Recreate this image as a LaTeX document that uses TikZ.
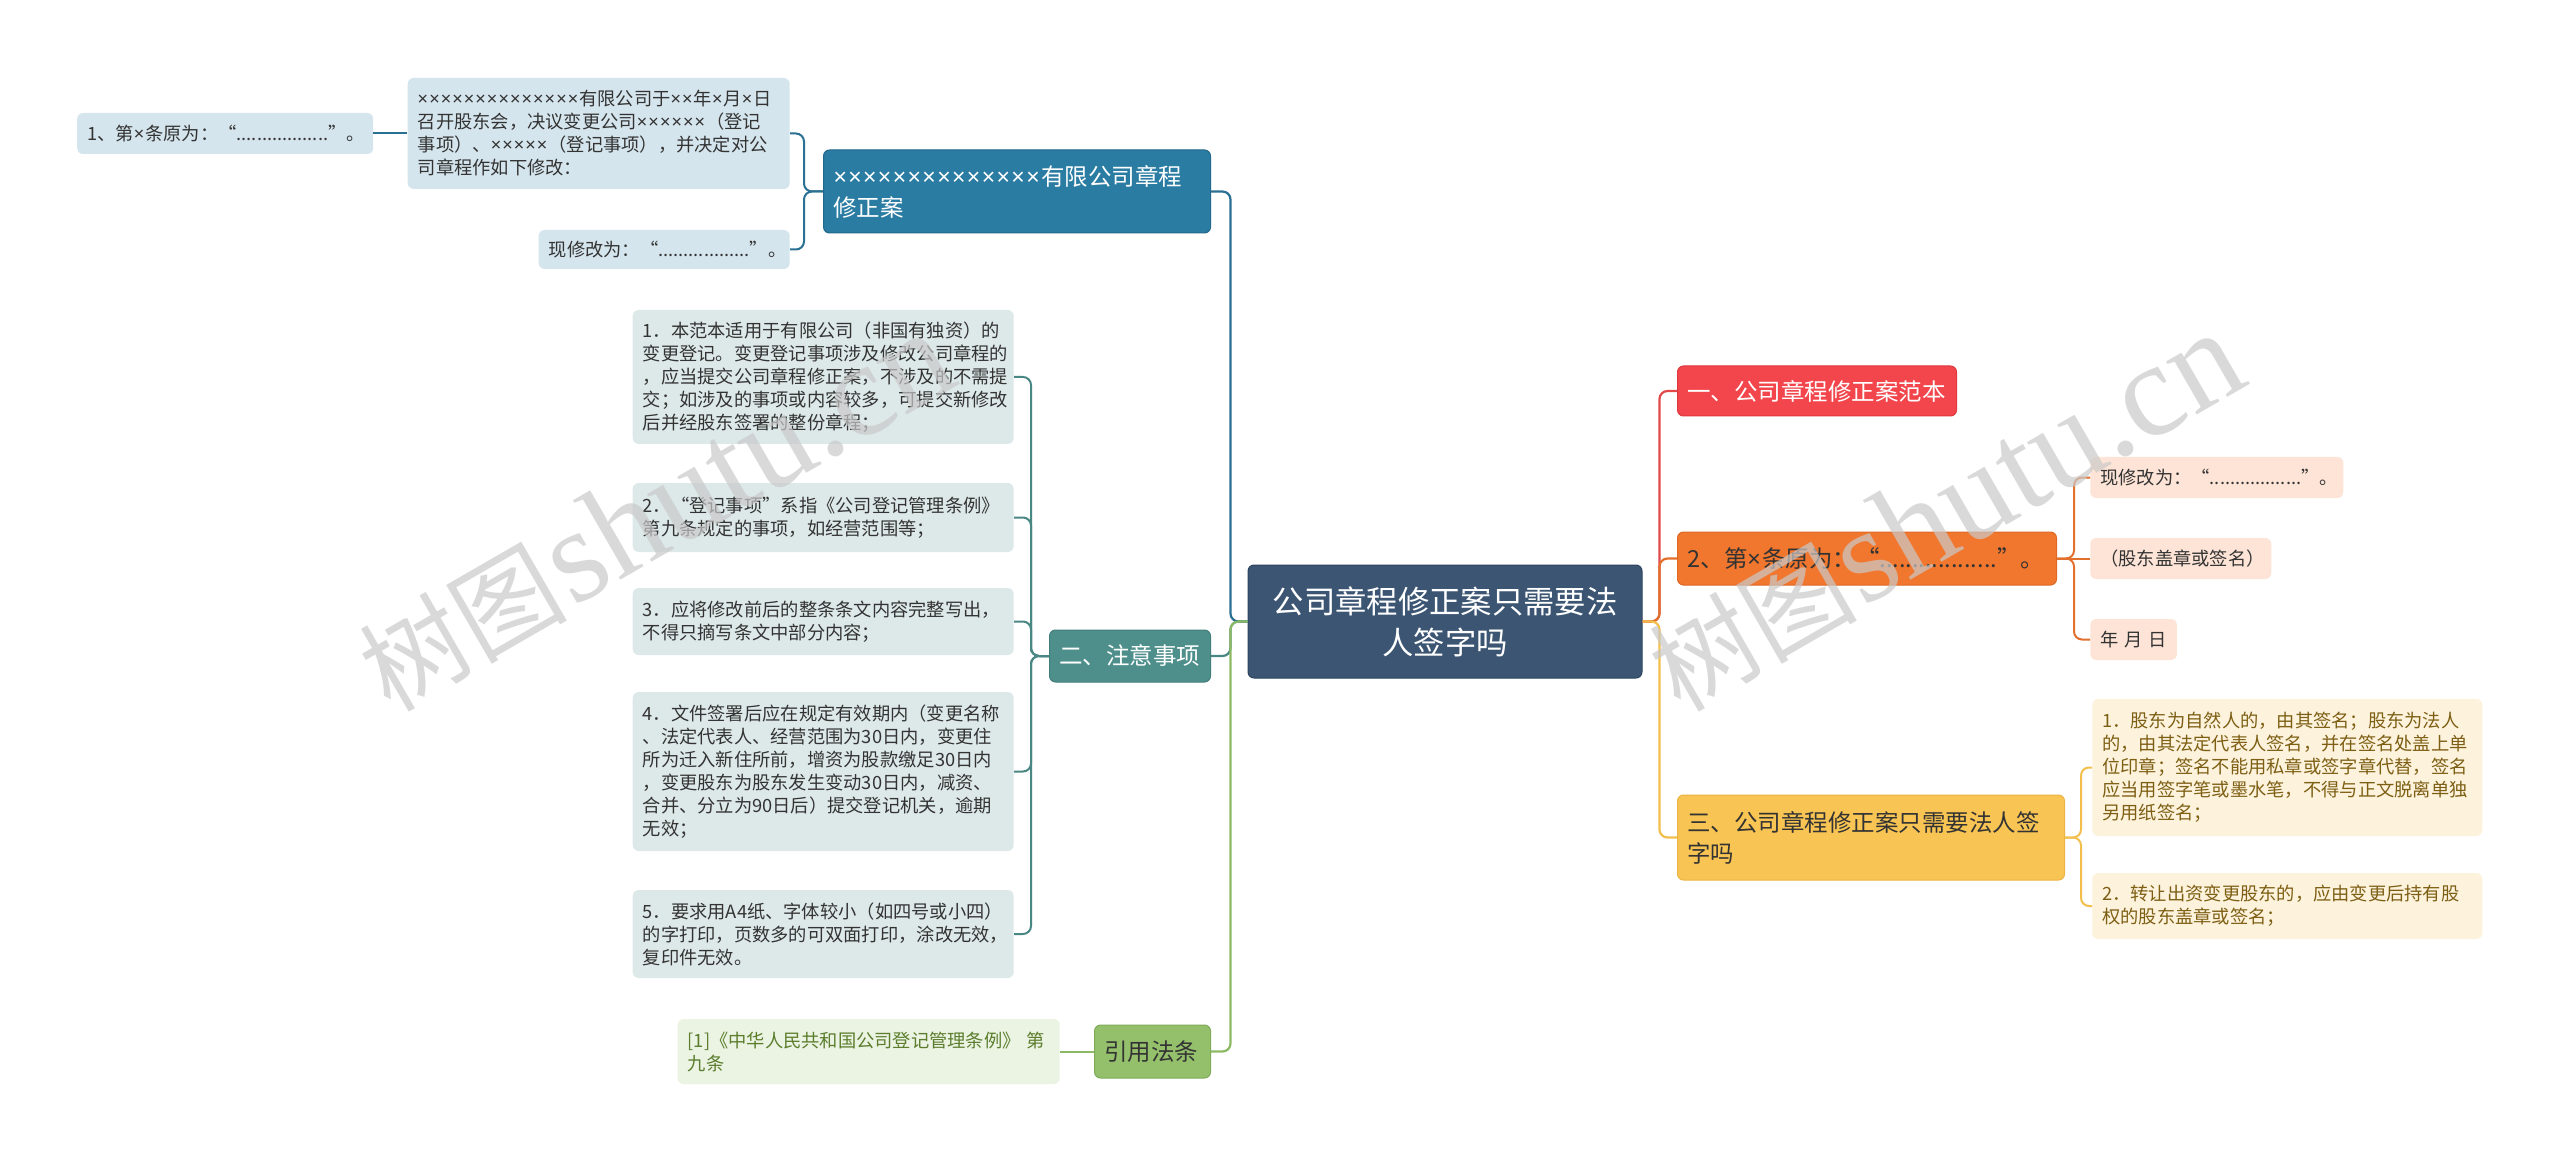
\documentclass[tikz,border=0pt]{standalone}
\usepackage{fontspec}
\setmainfont{Noto Sans CJK SC}
\newfontfamily\wmlatin{Liberation Serif}
\newfontfamily\crossfont{Noto Sans}
\usetikzlibrary{positioning}
\definecolor{rootcolor}{RGB}{59,85,115}
\definecolor{rootborder}{RGB}{45,68,95}
\definecolor{amendcolor}{RGB}{42,124,162}
\definecolor{amendborder}{RGB}{33,104,138}
\definecolor{amendleafcolor}{RGB}{213,229,237}
\definecolor{amendline}{RGB}{42,112,146}
\definecolor{notecolor}{RGB}{78,143,140}
\definecolor{noteborder}{RGB}{66,126,123}
\definecolor{noteleafcolor}{RGB}{221,233,232}
\definecolor{noteline}{RGB}{72,135,132}
\definecolor{lawcolor}{RGB}{148,192,108}
\definecolor{lawborder}{RGB}{128,172,90}
\definecolor{lawleafcolor}{RGB}{235,243,226}
\definecolor{lawline}{RGB}{140,186,100}
\definecolor{lawtext}{RGB}{91,125,45}
\definecolor{samplecolor}{RGB}{242,70,76}
\definecolor{sampleborder}{RGB}{222,56,62}
\definecolor{sampleline}{RGB}{226,72,72}
\definecolor{origcolor}{RGB}{242,119,46}
\definecolor{origborder}{RGB}{222,104,36}
\definecolor{origleafcolor}{RGB}{253,228,214}
\definecolor{origline}{RGB}{226,112,44}
\definecolor{signcolor}{RGB}{248,196,83}
\definecolor{signborder}{RGB}{236,180,66}
\definecolor{signleafcolor}{RGB}{253,242,220}
\definecolor{signline}{RGB}{242,191,76}
\definecolor{signtext}{RGB}{125,95,20}
\definecolor{textdark}{RGB}{51,51,51}

\newcommand\leaffont{\fontsize{13.7pt}{17.25pt}\selectfont}
\newcommand\branchfont{\fontsize{17.6pt}{23.25pt}\selectfont}
\newcommand\rootfont{\fontsize{23.5pt}{30.75pt}\selectfont}
\newcommand\wmcjk{\fontsize{78pt}{78pt}\selectfont}
\newcommand\wmlat{\fontsize{100pt}{100pt}\selectfont}
\newcommand\cross{{\crossfont ×}\kern0.06em\relax}

\begin{document}
\begin{tikzpicture}[
    x=0.75pt, y=-0.75pt,
    every node/.style={font=\leaffont, text=textdark},
    box/.style={rounded corners=4.5pt, align=left, inner xsep=7.5pt, inner ysep=0pt},
    rootbox/.style={box, fill=rootcolor, draw=rootborder, line width=0.75pt, align=center,
                    text=white, font=\rootfont, text width=295.5pt, minimum height=84.75pt, inner xsep=0pt},
    branchbox/.style={box, font=\branchfont, line width=0.75pt},
    amendbox/.style={branchbox, fill=amendcolor, draw=amendborder, text=white},
    notebox/.style={branchbox, fill=notecolor, draw=noteborder, text=white},
    lawbox/.style={branchbox, fill=lawcolor, draw=lawborder},
    samplebox/.style={branchbox, fill=samplecolor, draw=sampleborder, text=white},
    origbox/.style={branchbox, fill=origcolor, draw=origborder},
    signbox/.style={branchbox, fill=signcolor, draw=signborder},
    amendleaf/.style={box, fill=amendleafcolor},
    noteleaf/.style={box, fill=noteleafcolor, text width=270.75pt},
    lawleaf/.style={box, fill=lawleafcolor, text=lawtext},
    origleaf/.style={box, fill=origleafcolor, minimum height=30.75pt},
    signleaf/.style={box, fill=signleafcolor, text=signtext, text width=277.5pt},
    link/.style={line width=1.65pt, rounded corners=6pt},
    leaflink/.style={line width=1.5pt, rounded corners=6pt},
    watermark/.style={rotate=30, text=gray!42, opacity=0.7, inner sep=0pt},
]

%% ── Canvas ───────────────────────────────────────────────────────────────────
\fill[white] (0,0) rectangle (2560,1162);

%% ── Root ─────────────────────────────────────────────────────────────────────
\node[rootbox] (root) at (1445,621.5) {公司章程修正案只需要法\\人签字吗};

%% ── Left: amendment branch ───────────────────────────────────────────────────
\node[amendbox, text width=275.25pt, minimum height=62.25pt, anchor=east]
  (amend) at (1211,191.5)
  {\cross\cross\cross\cross\cross\cross\cross\cross\cross\cross\cross\cross\cross\cross 有限公司章程\\修正案};
\node[amendleaf, text width=271.5pt, minimum height=83.25pt, anchor=east]
  (meeting) at (790,133.5)
  {\cross\cross\cross\cross\cross\cross\cross\cross\cross\cross\cross\cross\cross\cross 有限公司于\cross\cross 年\cross 月\cross 日\\召开股东会，决议变更公司\cross\cross\cross\cross\cross\cross（登记\\事项）、\cross\cross\cross\cross\cross（登记事项），并决定对公\\司章程作如下修改：};
\node[amendleaf, text width=207pt, minimum height=30.75pt, left=25.5pt of meeting]
  (oldclause) {1、第\cross 条原为：“..................”。};
\node[amendleaf, text width=173.25pt, minimum height=29.25pt, anchor=east]
  (newclause) at (790,249.5) {现修改为：“..................”。};

%% ── Left: notes branch ───────────────────────────────────────────────────────
\node[notebox, text width=105.75pt, minimum height=39pt, anchor=east]
  (notes) at (1211,656) {二、注意事项};
\node[noteleaf, minimum height=100.5pt, anchor=east] (note1) at (1014,377)
  {1．本范本适用于有限公司（非国有独资）的\\变更登记。变更登记事项涉及修改公司章程的\\，应当提交公司章程修正案，不涉及的不需提\\交；如涉及的事项或内容较多，可提交新修改\\后并经股东签署的整份章程；};
\node[noteleaf, minimum height=51.75pt, anchor=east] (note2) at (1014,517.5)
  {2．“登记事项”系指《公司登记管理条例》\\第九条规定的事项，如经营范围等；};
\node[noteleaf, minimum height=50.25pt, anchor=east] (note3) at (1014,621.5)
  {3．应将修改前后的整条条文内容完整写出，\\不得只摘写条文中部分内容；};
\node[noteleaf, minimum height=119.25pt, anchor=east] (note4) at (1014,771.5)
  {4．文件签署后应在规定有效期内（变更名称\\、法定代表人、经营范围为30日内，变更住\\所为迁入新住所前，增资为股款缴足30日内\\，变更股东为股东发生变动30日内，减资、\\合并、分立为90日后）提交登记机关，逾期\\无效；};
\node[noteleaf, minimum height=66pt, anchor=east] (note5) at (1014,934)
  {5．要求用A4纸、字体较小（如四号或小四）\\的字打印，页数多的可双面打印，涂改无效，\\复印件无效。};

%% ── Left: law branch ─────────────────────────────────────────────────────────
\node[lawbox, text width=72pt, minimum height=39.75pt, anchor=east]
  (law) at (1211,1051.5) {引用法条};
\node[lawleaf, text width=271.5pt, minimum height=48.75pt, left=25.5pt of law]
  (cite) {[1]《中华人民共和国公司登记管理条例》 第\\九条};

%% ── Right: sample branch ─────────────────────────────────────────────────────
\node[samplebox, text width=194.25pt, minimum height=37.5pt, anchor=west]
  (sample) at (1677,391) {一、公司章程修正案范本};
\node[origbox, text width=269.25pt, minimum height=39.75pt, anchor=west]
  (orig) at (1677,558.5) {2、第\cross 条原为：“..................”。};
\node[origleaf, text width=174.75pt, anchor=west] (revised) at (2090,477.5)
  {现修改为：“..................”。};
\node[origleaf, text width=120.75pt, anchor=west] (seal) at (2090,558.5)
  {（股东盖章或签名）};
\node[origleaf, text width=50pt, anchor=west] (date) at (2090,639.5)
  {年~月~日};

%% ── Right: signature branch ──────────────────────────────────────────────────
\node[signbox, text width=275.25pt, minimum height=63.75pt, anchor=west]
  (sign) at (1677,837.5) {三、公司章程修正案只需要法人签\\字吗};
\node[signleaf, minimum height=102.75pt, anchor=west] (sign1) at (2092,767.5)
  {1．股东为自然人的，由其签名；股东为法人\\的，由其法定代表人签名，并在签名处盖上单\\位印章；签名不能用私章或签字章代替，签名\\应当用签字笔或墨水笔，不得与正文脱离单独\\另用纸签名；};
\node[signleaf, minimum height=49.5pt, anchor=west] (sign2) at (2092,906)
  {2．转让出资变更股东的，应由变更后持有股\\权的股东盖章或签名；};

%% ── Root links ───────────────────────────────────────────────────────────────
\draw[link, amendline] (root.west) -- ++(-17,0) |- (amend.east);
\draw[link, noteline]  (root.west) -- ++(-17,0) |- (notes.east);
\draw[link, lawline]   (root.west) -- ++(-17,0) |- (law.east);
\draw[link, sampleline] (root.east) -- ++(17,0) |- (sample.west);
\draw[link, origline]   (root.east) -- ++(17,0) |- (orig.west);
\draw[link, signline]   (root.east) -- ++(17,0) |- (sign.west);

%% ── Leaf links ───────────────────────────────────────────────────────────────
\draw[leaflink, amendline] (amend.west) -- ++(-19,0) |- (meeting.east);
\draw[leaflink, amendline] (amend.west) -- ++(-19,0) |- (newclause.east);
\draw[leaflink, amendline] (meeting.west) -- (oldclause.east);
\draw[leaflink, noteline] (notes.west) -- ++(-18,0) |- (note1.east);
\draw[leaflink, noteline] (notes.west) -- ++(-18,0) |- (note2.east);
\draw[leaflink, noteline] (notes.west) -- ++(-18,0) |- (note3.east);
\draw[leaflink, noteline] (notes.west) -- ++(-18,0) |- (note4.east);
\draw[leaflink, noteline] (notes.west) -- ++(-18,0) |- (note5.east);
\draw[leaflink, lawline] (law.west) -- (cite.east);
\draw[leaflink, origline] (orig.east) -- ++(17,0) |- (revised.west);
\draw[leaflink, origline] (orig.east) -- (seal.west);
\draw[leaflink, origline] (orig.east) -- ++(17,0) |- (date.west);
\draw[leaflink, signline] (sign.east) -- ++(16,0) |- (sign1.west);
\draw[leaflink, signline] (sign.east) -- ++(16,0) |- (sign2.west);

%% ── Watermarks ───────────────────────────────────────────────────────────────
\node[watermark] (wmleft)  at (655,512)  {{\wmcjk 树图} {\wmlatin\wmlat shutu.cn}};
\node[watermark] (wmright) at (1945,512) {{\wmcjk 树图} {\wmlatin\wmlat shutu.cn}};

\end{tikzpicture}
\end{document}
